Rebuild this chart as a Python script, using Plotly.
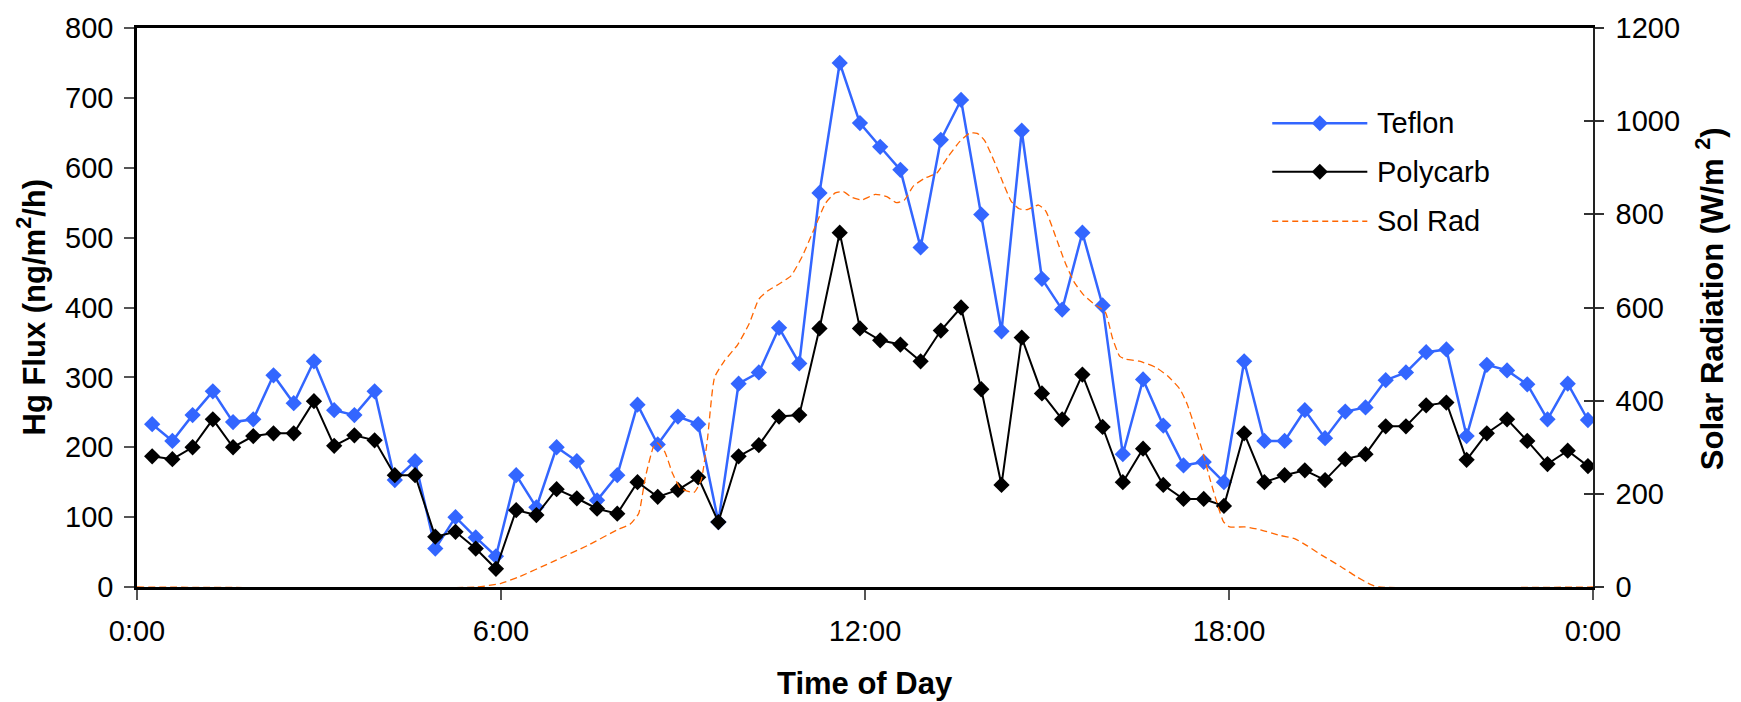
import plotly.graph_objects as go

# ---------------- data ----------------
times = ["0:15","0:35","0:55","1:15","1:35","1:55","2:15","2:35","2:55","3:15","3:35","3:55",
         "4:15","4:35","4:55","5:15","5:35","5:55","6:15","6:35","6:55","7:15","7:35","7:55",
         "8:15","8:35","8:55","9:15","9:35","9:55","10:15","10:35","10:55","11:15","11:35","11:55",
         "12:15","12:35","12:55","13:15","13:35","13:55","14:15","14:35","14:55","15:15","15:35","15:55",
         "16:15","16:35","16:55","17:15","17:35","17:55","18:15","18:35","18:55","19:15","19:35","19:55",
         "20:15","20:35","20:55","21:15","21:35","21:55","22:15","22:35","22:55","23:15","23:35","23:55"]

teflon = [233,209,246,280,236,240,303,263,323,253,246,280,
          153,180,55,100,71,44,160,114,200,180,124,160,
          261,204,244,233,93,291,307,371,320,564,750,664,
          630,597,486,640,697,533,366,653,441,397,507,403,
          190,297,231,174,179,150,323,209,209,253,213,251,
          257,296,307,336,340,216,318,310,290,240,291,239]

polycarb = [187,183,200,240,200,216,220,220,266,202,217,210,
            160,160,72,79,55,26,110,103,140,127,112,105,
            150,129,139,157,93,187,203,244,246,370,507,370,
            353,347,323,367,400,283,146,357,277,240,304,229,
            150,198,146,126,126,116,220,150,160,167,153,183,
            190,230,230,260,264,182,220,240,209,176,195,173]

sol_hours = [0, 5.6, 6.0, 6.3, 6.83, 7.44, 7.92, 8.13, 8.27, 8.38, 8.51, 8.57, 8.70, 8.83, 8.96,
             9.18, 9.30, 9.40, 9.52, 9.68, 9.90, 10.09, 10.25, 10.40, 10.59, 10.78, 10.97, 11.16,
             11.35, 11.51, 11.64, 11.79, 11.95, 12.17, 12.36, 12.52, 12.65, 12.80, 12.99, 13.18,
             13.37, 13.56, 13.72, 13.85, 13.97, 14.13, 14.29, 14.41, 14.54, 14.67, 14.86, 14.98,
             15.14, 15.30, 15.45, 15.61, 15.77, 15.96, 16.08, 16.20, 16.30, 16.52, 16.80, 16.99,
             17.19, 17.31, 17.44, 17.56, 17.69, 17.82, 17.91, 18.01, 18.26, 18.51, 18.83, 19.08,
             19.27, 19.52, 19.84, 20.09, 20.34, 20.47, 24]
sol_rad = [0, 0, 8, 22, 53, 90, 123, 135, 158, 236, 300, 310, 290, 243, 212,
           203, 230, 314, 450, 485, 520, 565, 618, 636, 651, 668, 711, 768,
           824, 846, 849, 836, 831, 843, 838, 825, 831, 861, 878, 888,
           924, 956, 974, 974, 959, 914, 863, 828, 812, 810, 820, 807,
           753, 696, 654, 626, 608, 590, 534, 495, 489, 485, 471, 453,
           425, 393, 342, 293, 230, 173, 140, 129, 129, 123, 111, 104,
           90, 69, 44, 23, 5, 0, 0]

x_tick_vals = [0, 6, 12, 18, 24]
x_tick_text = ["0:00", "6:00", "12:00", "18:00", "0:00"]
series_names = ["Teflon", "Polycarb", "Sol Rad"]

# ---------------- styles ----------------
FONT = "Liberation Sans, Arial, sans-serif"
BLUE = "#3366FF"
BLACK = "#000000"
ORANGE = "#FF6600"

hours = [int(t.split(":")[0]) + int(t.split(":")[1]) / 60 for t in times]

fig = go.Figure()
fig.add_trace(go.Scatter(x=hours, y=teflon, name=series_names[0], mode="lines+markers",
                         line=dict(color=BLUE, width=2.5),
                         marker=dict(symbol="diamond", size=12.5, color=BLUE, line=dict(width=0)),
                         yaxis="y", showlegend=False))
fig.add_trace(go.Scatter(x=hours, y=polycarb, name=series_names[1], mode="lines+markers",
                         line=dict(color=BLACK, width=2),
                         marker=dict(symbol="diamond", size=12.5, color=BLACK, line=dict(width=0)),
                         yaxis="y", showlegend=False))
fig.add_trace(go.Scatter(x=sol_hours, y=sol_rad, name=series_names[2], mode="lines",
                         line=dict(color=ORANGE, width=1.3, dash="7px,4px", shape="spline", smoothing=0.5),
                         yaxis="y2", showlegend=False))
fig.add_trace(go.Scatter(x=[None], y=[None], yaxis="y3", showlegend=False, hoverinfo="skip"))

tickfont = dict(family=FONT, size=29, color="black")

fig.update_layout(
    width=1741, height=702,
    margin=dict(l=137, r=148, t=23, b=115),
    paper_bgcolor="white", plot_bgcolor="white",
    font=dict(family=FONT, color="black"),
    xaxis=dict(range=[0, 24], tickvals=x_tick_vals, ticktext=x_tick_text,
               ticks="outside", ticklen=10, tickwidth=1.5, tickcolor="#555555",
               showline=True, linecolor="black", linewidth=2.5, mirror=True,
               showgrid=False, zeroline=False, tickfont=tickfont,
               ticklabelstandoff=6, layer="below traces"),
    yaxis=dict(range=[0, 800], dtick=100, ticks="outside", ticklen=10, tickwidth=1.5,
               tickcolor="#555555", showline=True, linecolor="black", linewidth=2.5,
               showgrid=False, zeroline=False, tickfont=tickfont, ticklabelstandoff=5),
    yaxis2=dict(range=[0, 1200], dtick=200, overlaying="y", side="right", anchor="x",
                ticks="outside", ticklen=9, tickwidth=1.5, tickcolor="#333333",
                showline=True, linecolor="#222222", linewidth=1.5,
                showgrid=False, zeroline=False, tickfont=tickfont, ticklabelstandoff=6),
    yaxis3=dict(range=[0, 1200], dtick=200, overlaying="y", side="right", anchor="x",
                ticks="inside", ticklen=9, tickwidth=1.5, tickcolor="#333333",
                showline=False, showgrid=False, zeroline=False, showticklabels=False),
    showlegend=False,
)

# axis titles
title_font = dict(family=FONT, size=31, color="black")
fig.add_annotation(text="<b>Time of Day</b>", xref="paper", yref="paper", x=0.5, y=-0.173,
                   xanchor="center", yanchor="middle", showarrow=False, font=title_font)
fig.add_annotation(text="<b>Hg Flux (ng/m<sup>2</sup>/h)</b>", xref="paper", yref="paper",
                   x=-0.0728, y=0.5, xanchor="center", yanchor="middle", textangle=-90,
                   showarrow=False, font=title_font)
fig.add_annotation(text="<b>Solar Radiation (W/m <sup>2</sup>)</b>", xref="paper", yref="paper",
                   x=1.0804, y=0.515, xanchor="center", yanchor="middle", textangle=-90,
                   showarrow=False, font=title_font)

# custom legend (long line samples like the original)
leg_x0, leg_x1, leg_tx = 0.7797, 0.845, 0.8505
leg_y = [0.8298, 0.7429, 0.6543]
leg_style = [(BLUE, 2.5, "solid", True), (BLACK, 2, "solid", True), (ORANGE, 1.3, "6px,4px", False)]
for name, yc, (col, w, dash, mk) in zip(series_names, leg_y, leg_style):
    fig.add_shape(type="line", xref="paper", yref="paper", x0=leg_x0, x1=leg_x1, y0=yc, y1=yc,
                  line=dict(color=col, width=w, dash=dash))
    if mk:
        xm = (leg_x0 + leg_x1) / 2
        fig.add_shape(type="path", xref="paper", yref="paper", xsizemode="pixel", ysizemode="pixel",
                      xanchor=xm, yanchor=yc, path="M 0 8 L 8 0 L 0 -8 L -8 0 Z",
                      fillcolor=col, line=dict(width=0))
    fig.add_annotation(text=name, xref="paper", yref="paper", x=leg_tx, y=yc, xanchor="left",
                       yanchor="middle", showarrow=False, font=dict(family=FONT, size=29, color="black"))

fig.write_html("out.html")
